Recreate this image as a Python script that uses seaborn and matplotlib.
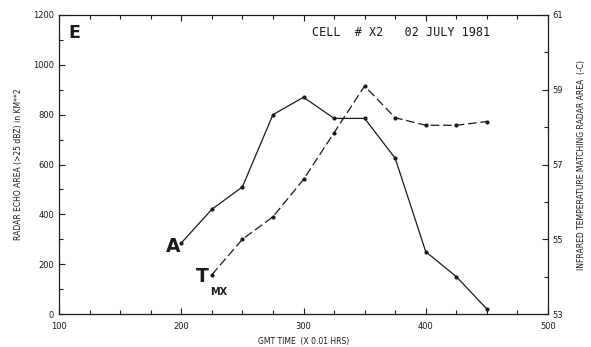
import matplotlib
matplotlib.use("Agg")
import matplotlib.pyplot as plt
import seaborn as sns
import numpy as np
import pandas as pd
from matplotlib.ticker import MultipleLocator

# GMT time (x 0.01 hrs)
time_area = [200, 225, 250, 275, 300, 325, 350, 375, 400, 425, 450]
# Radar echo area (>25 dBZ), km^2
echo_area = [285, 420, 510, 800, 870, 785, 785, 625, 250, 150, 20]

time_temp = [225, 250, 275, 300, 325, 350, 375, 400, 425, 450]
# Infrared temperature matching radar area (-C)
ir_temp = [54.05, 55.0, 55.6, 56.6, 57.85, 59.1, 58.25, 58.05, 58.05, 58.15]

left_ticks = [0, 200, 400, 600, 800, 1000, 1200]
right_ticks = [53, 55, 57, 59, 61]
x_ticks = [100, 200, 300, 400, 500]

sns.set_theme(style="ticks")
plt.rcParams["font.family"] = ["DejaVu Sans"]

ink = "#1a1a1a"
fig = plt.figure(figsize=(5.91, 3.47), dpi=100)
ax = fig.add_axes([59 / 591, 1 - 314 / 347, (548 - 59) / 591, (314 - 15) / 347])

df_a = pd.DataFrame({"time": time_area, "area": echo_area})
sns.lineplot(data=df_a, x="time", y="area", ax=ax, color=ink, lw=0.9,
             marker="o", markersize=3, markeredgewidth=0, estimator=None)

ax.set_xlim(100, 500)
ax.set_ylim(0, 1200)
ax.set_xticks(x_ticks)
ax.set_yticks(left_ticks)
ax.xaxis.set_minor_locator(MultipleLocator(25))
ax.yaxis.set_minor_locator(MultipleLocator(100))
ax.tick_params(axis="both", which="both", direction="in", colors=ink,
               labelsize=6, length=4, width=0.8, top=True)
ax.tick_params(axis="both", which="minor", length=3)
ax.tick_params(axis="x", pad=6)
for s in ax.spines.values():
    s.set_color(ink)
    s.set_linewidth(0.9)
ax.set_xlabel("GMT TIME  (X 0.01 HRS)", fontsize=5.5, color=ink, labelpad=4)
ax.set_ylabel("RADAR ECHO AREA (>25 dBZ) in KM**2", fontsize=5.5, color=ink, labelpad=7)

ax2 = ax.twinx()
df_t = pd.DataFrame({"time": time_temp, "temp": ir_temp})
sns.lineplot(data=df_t, x="time", y="temp", ax=ax2, color=ink, lw=0.9,
             marker="o", markersize=3, markeredgewidth=0, estimator=None,
             dashes=False)
ax2.lines[0].set_dashes((7, 3))
ax2.set_ylim(53, 61)
ax2.set_yticks(right_ticks)
ax2.yaxis.set_minor_locator(MultipleLocator(1))
ax2.tick_params(axis="y", which="both", direction="in", colors=ink,
                labelsize=6, length=4, width=0.8)
ax2.tick_params(axis="y", which="minor", length=3)
ax2.set_ylabel("INFRARED TEMPERATURE MATCHING RADAR AREA  (-C)", fontsize=5.5,
               color=ink, rotation=90, labelpad=10)
for s in ax2.spines.values():
    s.set_visible(False)

# Panel letter, case title and series labels
ax.text(107.5, 1128, "E", fontsize=12.5, fontweight="bold", color=ink, va="center")
ax.text(307, 1128, "CELL  # X2   02 JULY 1981", fontsize=8.5, color=ink, va="center",
        family=["DejaVu Sans Mono"])
ax.text(193.5, 271, "A", fontsize=13.5, fontweight="bold", color=ink, ha="center", va="center")
ax.text(217, 149, "T", fontsize=13.5, fontweight="bold", color=ink, ha="center", va="center")
ax.text(223.5, 88, "MX", fontsize=7, fontweight="bold", color=ink, ha="left", va="center")

fig.savefig("out.png", dpi=100, facecolor="white")
